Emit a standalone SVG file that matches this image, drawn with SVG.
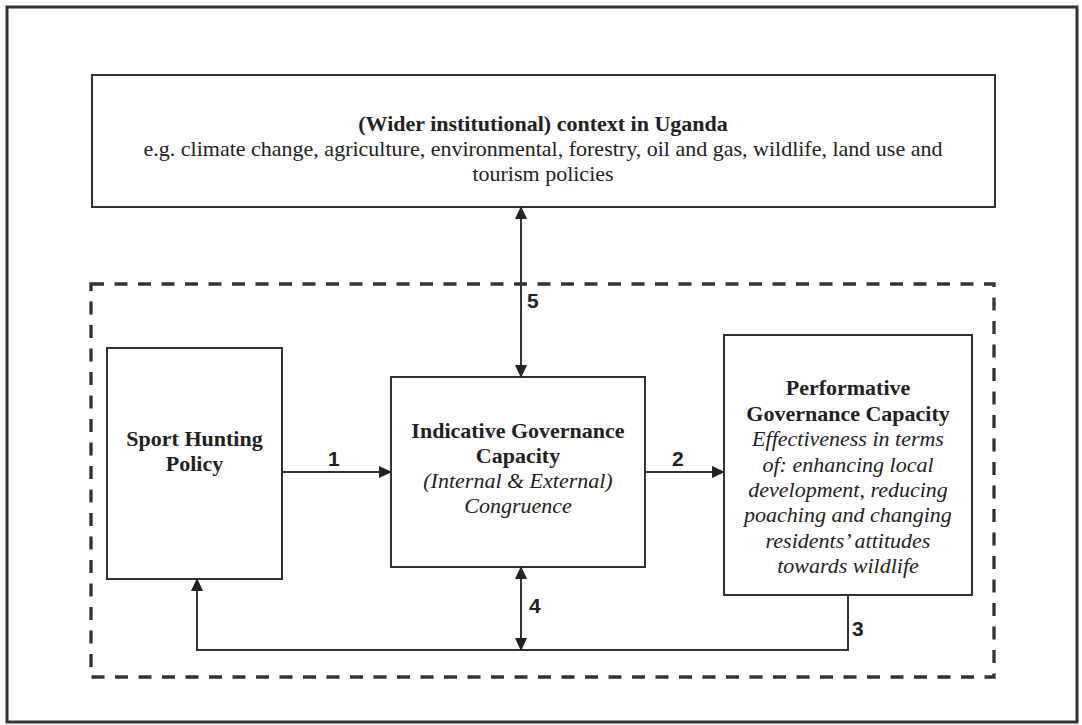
<svg xmlns="http://www.w3.org/2000/svg" width="1082" height="725" viewBox="0 0 1082 725">
<style>
.box{fill:#fff;stroke:#333;stroke-width:2}
.t{font-family:"Liberation Serif","Times New Roman",serif;font-size:22px;fill:#222;text-anchor:middle}
.b{font-weight:bold}
.i{font-style:italic}
.n{font-family:"Liberation Sans",Arial,sans-serif;font-size:21px;font-weight:bold;fill:#222}
.c{fill:none;stroke:#333;stroke-width:2}
</style>
<defs>
<marker id="ah" markerWidth="13" markerHeight="12" refX="12" refY="6" orient="auto-start-reverse" markerUnits="userSpaceOnUse">
<path d="M0,0 L13,6 L0,12 z" fill="#222"/>
</marker>
</defs>
<rect x="7" y="7" width="1070" height="715" fill="#fff" stroke="#333" stroke-width="3"/>
<rect id="boundary" x="91" y="284" width="903" height="393" fill="none" stroke="#333" stroke-width="3.3" stroke-dasharray="13 10.5"/>
<g id="context">
<rect class="box" x="92" y="75" width="903" height="132"/>
<text class="t b" x="543" y="131">(Wider institutional) context in Uganda</text>
<text class="t" x="543" y="156">e.g. climate change, agriculture, environmental, forestry, oil and gas, wildlife,  land use and</text>
<text class="t" x="543" y="181">tourism policies</text>
</g>
<g id="sport">
<rect class="box" x="107" y="348" width="175" height="231"/>
<text class="t b" x="194.5" y="446">Sport Hunting</text>
<text class="t b" x="194.5" y="471">Policy</text>
</g>
<g id="indicative">
<rect class="box" x="391" y="377" width="254" height="190"/>
<text class="t b" x="518" y="438">Indicative Governance</text>
<text class="t b" x="518" y="463">Capacity</text>
<text class="t i" x="518" y="488">(Internal &amp; External)</text>
<text class="t i" x="518" y="513">Congruence</text>
</g>
<g id="performative">
<rect class="box" x="724" y="335" width="248" height="260"/>
<text class="t b" x="848" y="395">Performative</text>
<text class="t b" x="848" y="421">Governance Capacity</text>
<text class="t i" x="848" y="446">Effectiveness in terms</text>
<text class="t i" x="848" y="472">of: enhancing local</text>
<text class="t i" x="848" y="497">development, reducing</text>
<text class="t i" x="848" y="522">poaching and changing</text>
<text class="t i" x="848" y="548">residents’ attitudes</text>
<text class="t i" x="848" y="573">towards wildlife</text>
</g>
<g id="connectors">
<line class="c" x1="282" y1="472" x2="391" y2="472" marker-end="url(#ah)"/>
<line class="c" x1="645" y1="472" x2="724" y2="472" marker-end="url(#ah)"/>
<polyline class="c" points="848,595 848,650 197,650 197,579" marker-end="url(#ah)"/>
<line class="c" x1="521" y1="567" x2="521" y2="650" marker-start="url(#ah)" marker-end="url(#ah)"/>
<line class="c" x1="521" y1="207" x2="521" y2="377" marker-start="url(#ah)" marker-end="url(#ah)"/>
<text class="n" x="328" y="466">1</text>
<text class="n" x="672" y="466">2</text>
<text class="n" x="852" y="636">3</text>
<text class="n" x="529" y="613">4</text>
<text class="n" x="527" y="308">5</text>
</g>
</svg>
